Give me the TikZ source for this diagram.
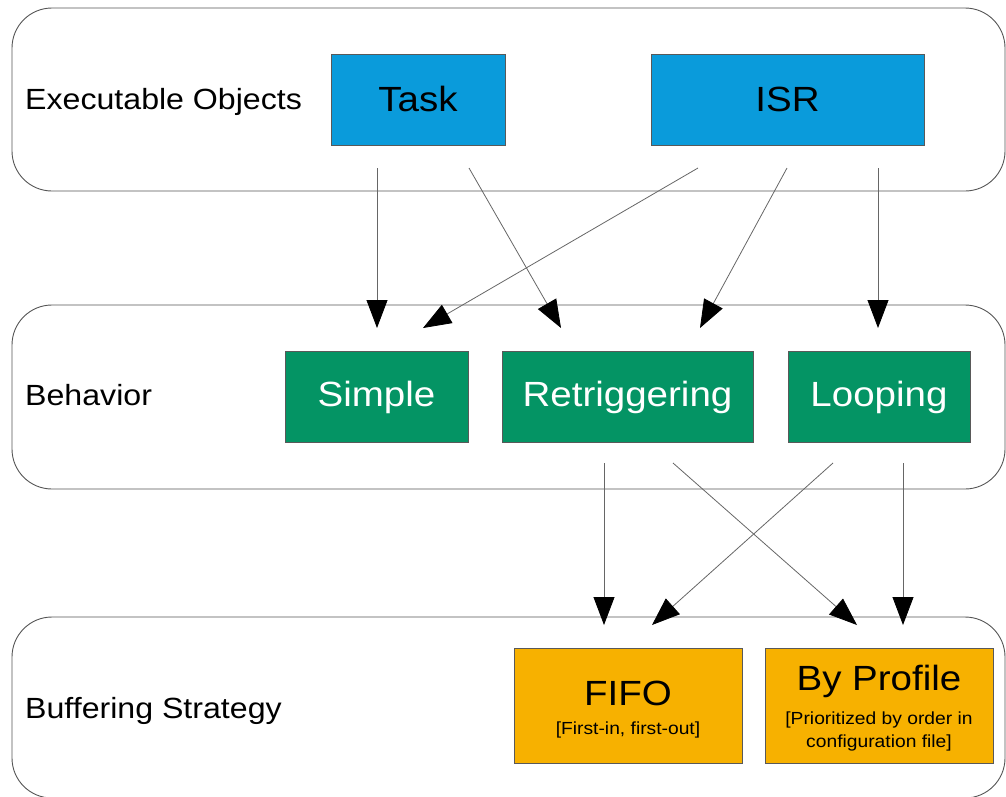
\documentclass[tikz,border=0pt]{standalone}
\usepackage{fontspec}
\setmainfont{Liberation Sans}[FakeStretch=1.1]
\usetikzlibrary{arrows.meta}
\definecolor{blu}{RGB}{10,155,219}
\definecolor{grn}{RGB}{4,148,100}
\definecolor{org}{RGB}{247,177,0}
\definecolor{laneline}{RGB}{85,85,85}
\begin{document}
\begin{tikzpicture}[x=1pt,y=-1pt,
  lane/.style={draw=laneline,line width=0.9pt,rounded corners=40pt},
  box/.style={draw=black!65,line width=0.6pt,inner sep=0pt,minimum height=91pt},
  lanelbl/.style={anchor=base west,inner sep=0pt,font=\fontsize{29.2}{34}\selectfont},
  boxlbl/.style={anchor=base,inner sep=0pt,font=\fontsize{35}{40}\selectfont},
  sublbl/.style={anchor=base,inner sep=0pt,font=\fontsize{17.5}{21}\selectfont},
  conn/.style={draw=black!60,line width=0.8pt,-{Triangle[length=28pt,width=21pt,fill=black,color=black]}}
]
\useasboundingbox (0,0) rectangle (1006,796);
\clip (0,0) rectangle (1006,796);
% lanes
\draw[lane] (12,8) rectangle (1005,191);
\draw[lane] (12,305) rectangle (1005,489);
\draw[lane] (12,617) rectangle (1005,798);
% lane labels
\node[lanelbl] (l1) at (25,109) {Executable Objects};
\node[lanelbl] (l2) at (25,405) {Behavior};
\node[lanelbl] (l3) at (25,718) {Buffering Strategy};
% boxes
\node[box,fill=blu,minimum width=174pt] (task) at (418,99.5) {};
\node[box,fill=blu,minimum width=273pt] (isr) at (787.5,99.5) {};
\node[box,fill=grn,minimum width=183pt] (simple) at (376.5,396.5) {};
\node[box,fill=grn,minimum width=251pt] (retrig) at (627.5,396.5) {};
\node[box,fill=grn,minimum width=182pt] (loop) at (879,396.5) {};
\node[box,fill=org,minimum width=228pt,minimum height=115pt] (fifo) at (628,705.5) {};
\node[box,fill=org,minimum width=228pt,minimum height=115pt] (prof) at (879,705.5) {};
% box labels
\node[boxlbl] (taskt) at (418,111) {Task};
\node[boxlbl] (isrt) at (787.5,111) {ISR};
\node[boxlbl,text=white] (simplet) at (376.5,406) {Simple};
\node[boxlbl,text=white] (retrigt) at (627.5,406) {Retriggering};
\node[boxlbl,text=white] (loopt) at (879,406) {Looping};
\node[boxlbl] (fifot) at (628,705) {FIFO};
\node[sublbl] (fifos) at (628,734) {[First-in, first-out]};
\node[boxlbl] (proft) at (879,690) {By Profile};
\node[sublbl] (profs1) at (879,724) {[Prioritized by order in};
\node[sublbl] (profs2) at (879,747) {configuration file]};
% connector end points
\coordinate (a1s) at (377,168); \coordinate (a1e) at (377,328);
\coordinate (a2s) at (469,168); \coordinate (a2e) at (561,328);
\coordinate (a3s) at (698,168); \coordinate (a3e) at (423,328);
\coordinate (a4s) at (787,168); \coordinate (a4e) at (700,328);
\coordinate (a5s) at (878,168); \coordinate (a5e) at (878,328);
\coordinate (a6s) at (604,463); \coordinate (a6e) at (604,625);
\coordinate (a7s) at (673,463); \coordinate (a7e) at (857,625);
\coordinate (a8s) at (833,463); \coordinate (a8e) at (652,625);
\coordinate (a9s) at (903,463); \coordinate (a9e) at (903,625);
\foreach \i in {1,...,9} {\draw[conn] (a\i s) -- (a\i e);}
\end{tikzpicture}
\end{document}
